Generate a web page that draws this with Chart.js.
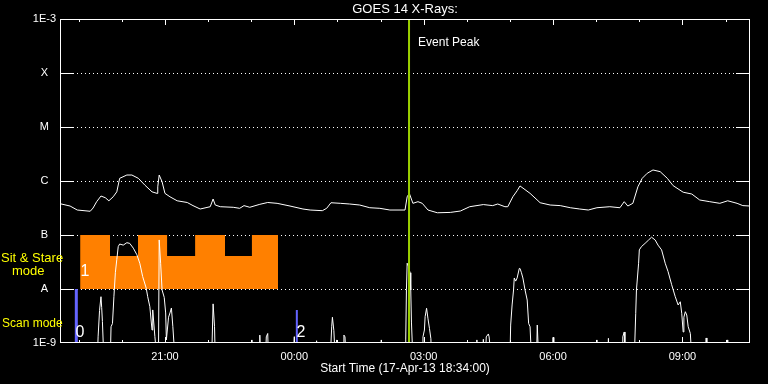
<!DOCTYPE html>
<html><head><meta charset="utf-8">
<script src="https://cdn.jsdelivr.net/npm/chart.js@4/dist/chart.umd.min.js"></script>
<style>html,body{margin:0;padding:0;background:#000;}#wrap{width:768px;height:384px;}</style>
</head><body><div id="wrap"><canvas id="c" width="768" height="384"></canvas></div>
<script>
// minutes after start time 17-Apr-13 18:34:00
const BELOW = 5e-10; // flux below the plotted range
const titleText = 'GOES 14 X-Rays:';
const xTitle = 'Start Time (17-Apr-13 18:34:00)';

const longTimes = [0,14,24,42,46,51,57,63,68,74,79,83,93,100,109,118,128,135,136,138,142,146,153,163,177,185,195,209,213,216,223,241,250,256,264,278,289,302,320,338,348,365,371,377,390,403,417,431,445,459,480,483,486,491,498,504,512,525,543,557,570,589,602,609,619,623,630,636,640,654,668,682,696,710,723,735,747,765,779,785,790,797,804,810,817,825,835,845,853,867,879,890,904,918,929,942,950,960];
const longFlux = [3.8e-7,3.44e-7,2.9e-7,2.75e-7,3.16e-7,4.14e-7,5.27e-7,4.9e-7,4.3e-7,5.1e-7,6.3e-7,1.12e-6,1.29e-6,1.29e-6,1.12e-6,8.4e-7,6.3e-7,5.9e-7,7.8e-7,1.29e-6,9.7e-7,5.9e-7,5.1e-7,4.3e-7,4.0e-7,3.5e-7,3.03e-7,3.34e-7,4.64e-7,3.59e-7,3.34e-7,3.26e-7,3.12e-7,3.5e-7,3.26e-7,3.7e-7,4.0e-7,3.86e-7,3.44e-7,3.03e-7,2.9e-7,2.82e-7,3.12e-7,3.96e-7,3.86e-7,3.75e-7,3.59e-7,3.2e-7,3.12e-7,2.9e-7,2.9e-7,5.1e-7,5.9e-7,3.86e-7,4.14e-7,3.86e-7,2.9e-7,2.58e-7,2.62e-7,2.78e-7,3.34e-7,3.66e-7,3.5e-7,3.75e-7,3.34e-7,3.34e-7,5.1e-7,6.6e-7,8.1e-7,5.9e-7,3.96e-7,3.59e-7,3.5e-7,3.2e-7,3.03e-7,2.9e-7,3.2e-7,3.34e-7,3.2e-7,4.14e-7,3.44e-7,3.86e-7,7.8e-7,1.12e-6,1.39e-6,1.6e-6,1.49e-6,1.12e-6,8.2e-7,6.2e-7,5.74e-7,4.45e-7,4.14e-7,3.86e-7,4.3e-7,3.86e-7,3.5e-7,3.44e-7];

const shortTimes = [
  0,
  52,53,55,57,58,59,61,
  70,71,73,75,77,79,81,83,88,93,97,102,107,111,115,120,122,125,128,129,132,135,
  137,138,140,142,145,147,148,151,153,155,157,160,
  211,213,215,216,
  266,267,268,277,278,279,286,287,289,290,
  324,326,327,356,357,358,
  376,378,379,381,383,385,386,394,395,396.5,398,
  446,447,448,
  480,481,482,483,485,487,488,489,491,504,505,507,508,510,512,514,516,517,
  579,580,581,588,589,590,592,593,596,597,600,
  626,627,629,631,632,634,636,639,640,642,644,647,650,652,654,656,663,664,666,
  685,686,687,746,747,748,762,763,764,782,783,785,786,
  799,801,802,805,806,809,814,819,823,828,832,837,842,846,851,856,860,863,865,867,868,870,872,874,877,879,
  898,899,900,927,928,929,960];
const shortFlux = [
  BELOW,
  BELOW,1.3e-9,4e-9,7.2e-9,4.5e-9,2.5e-9,BELOW,
  BELOW,2.0e-9,2.3e-9,7.2e-9,2.0e-8,3.5e-8,6.1e-8,6.8e-8,6.5e-8,7.2e-8,7.0e-8,5.7e-8,4.3e-8,3.0e-8,1.7e-8,1.03e-8,7.2e-9,4.7e-9,1.74e-9,4.1e-9,1.31e-9,BELOW,
  BELOW,8.1e-8,3.0e-8,9.6e-9,7.0e-9,3.6e-9,1.14e-9,3.0e-9,3.6e-9,4.45e-9,2.0e-9,BELOW,
  BELOW,5.3e-9,2.0e-9,BELOW,
  BELOW,1.14e-9,BELOW,BELOW,1.4e-9,BELOW,BELOW,1.3e-9,1.5e-9,BELOW,
  BELOW,1.31e-9,BELOW,BELOW,1.1e-9,BELOW,
  BELOW,2.0e-9,3.0e-9,1.7e-9,BELOW,1.14e-9,BELOW,BELOW,1.4e-9,1.3e-9,BELOW,
  BELOW,1.14e-9,BELOW,
  BELOW,1.14e-9,9.9e-9,3.0e-8,2.6e-8,2.0e-8,9.6e-9,2.35e-9,BELOW,BELOW,1.3e-9,1.74e-9,3.07e-9,4.4e-9,2.8e-9,1.87e-9,1.2e-9,BELOW,
  BELOW,1.14e-9,BELOW,BELOW,1.17e-9,BELOW,BELOW,1.3e-9,1.47e-9,1.3e-9,BELOW,
  BELOW,2.15e-9,5.06e-9,9.6e-9,1.6e-8,1.4e-8,1.6e-8,2.4e-8,2.4e-8,2.0e-8,1.6e-8,9.6e-9,6.25e-9,2.3e-9,2.0e-9,BELOW,BELOW,2.15e-9,BELOW,
  BELOW,1.27e-9,BELOW,BELOW,1.14e-9,BELOW,BELOW,1.22e-9,BELOW,BELOW,1.3e-9,1.6e-9,BELOW,
  BELOW,3.55e-9,9.6e-9,3.0e-8,5.3e-8,6.1e-8,7.0e-8,8.1e-8,9.1e-8,8.1e-8,6.5e-8,5.3e-8,3.0e-8,2.1e-8,1.2e-8,7.2e-9,5.06e-9,5.8e-9,3.55e-9,1.6e-9,3.0e-9,3.8e-9,3.3e-9,2.0e-9,1.5e-9,BELOW,
  BELOW,1.24e-9,BELOW,BELOW,1.14e-9,BELOW,BELOW];

// Sit & Stare mode (stepped block between A and B)
const stareTimes = [28,69.6,108.5,149,188,229.6,267,303.3];
const stareLevels = [1e-7,4.1e-8,1e-7,4.1e-8,1e-7,4.1e-8,1e-7,1e-7];
// Scan mode markers
const scanTimes = [22.7,329.5];
const scanLevels = [1e-8,4.1e-9];
const eventPeakTime = 485.6;

const yTickValues = [1e-9,1e-8,1e-7,1e-6,1e-5,1e-4,1e-3];
const yTickLabels = ['1E-9','A','B','C','M','X','1E-3'];
const xTickMinutes = [26,86,146,206,266,326,386,446,506,566,626,686,746,806,866,926];
const xTickLabels = ['','','21:00','','','00:00','','','03:00','','','06:00','','','09:00',''];

const modeNumbers = ['0','1','2'];
const modeNumberTimes = [27.8,34.8,335.3];
const modeNumberLevels = [1.53e-9,2.07e-8,1.53e-9];

const FONT = "'Liberation Sans', Arial, sans-serif";
const pts = (ts, vs) => ts.map((t,i)=>({x:t,y:vs[i]}));

const decor = {
  id:'decor',
  beforeDatasetsDraw(chart){
    const {ctx, chartArea:a, scales:{y}} = chart;
    ctx.save(); ctx.strokeStyle='#fff'; ctx.lineWidth=1; ctx.setLineDash([1,3]);
    yTickValues.forEach((v,i)=>{
      if(i===0||i===yTickValues.length-1) return;
      const py = Math.round(y.getPixelForValue(v))+0.5;
      ctx.beginPath(); ctx.moveTo(a.left+17,py); ctx.lineTo(a.right-14,py); ctx.stroke();
    });
    ctx.restore();
  },
  afterDraw(chart){
    const {ctx, chartArea:a, scales:{x,y}} = chart;
    ctx.save();
    ctx.strokeStyle='#fff'; ctx.lineWidth=1;
    ctx.strokeRect(a.left+0.5,a.top+0.5,a.right-a.left-1,a.bottom-a.top-1);
    ctx.beginPath();
    yTickValues.forEach((v,i)=>{
      if(i===0||i===yTickValues.length-1) return;
      const py = Math.round(y.getPixelForValue(v))+0.5;
      ctx.moveTo(a.left,py); ctx.lineTo(a.left+14,py);
      ctx.moveTo(a.right-14,py); ctx.lineTo(a.right,py);
    });
    xTickMinutes.forEach((m,i)=>{
      const px = Math.round(x.getPixelForValue(m))+0.5;
      const len = xTickLabels[i] ? 6 : 3;
      ctx.moveTo(px,a.top); ctx.lineTo(px,a.top+len);
      ctx.moveTo(px,a.bottom); ctx.lineTo(px,a.bottom-len);
    });
    ctx.stroke();
    // texts
    ctx.textBaseline='middle';
    ctx.fillStyle='#fff';
    ctx.font="12px "+FONT; ctx.textAlign='left';
    ctx.fillText('Event Peak', x.getPixelForValue(eventPeakTime)+9, a.top+24);
    ctx.font="16px "+FONT; ctx.textAlign='center';
    modeNumbers.forEach((s,i)=>ctx.fillText(s, x.getPixelForValue(modeNumberTimes[i]), y.getPixelForValue(modeNumberLevels[i])));
    ctx.fillStyle='#ffff00'; ctx.font="13px "+FONT; ctx.textAlign='left';
    ctx.fillText('Sit & Stare', 1, y.getPixelForValue(3.67e-8));
    ctx.fillText('mode', 12, y.getPixelForValue(2.15e-8));
    ctx.font="12px "+FONT;
    ctx.fillText('Scan mode', 2, y.getPixelForValue(2.25e-9));
    ctx.restore();
  }
};

new Chart(document.getElementById('c'), {
  type:'line',
  data:{ datasets:[
    { label:'Event Peak', data:[{x:eventPeakTime,y:1e-3},{x:eventPeakTime,y:1e-9}], borderColor:'#9bd000', borderWidth:2, pointRadius:0, order:0 },
    ...scanTimes.map((t,i)=>({ label:'Scan '+i, data:[{x:t,y:scanLevels[i]},{x:t,y:1e-9}], borderColor:'#6464ff', borderWidth:i===0?3:2, pointRadius:0, order:1 })),
    { label:'Long channel', data:pts(longTimes,longFlux), borderColor:'#ffffff', borderWidth:1, pointRadius:0, tension:0, order:2 },
    { label:'Short channel', data:pts(shortTimes,shortFlux), borderColor:'#ffffff', borderWidth:1, pointRadius:0, tension:0, order:2 },
    { label:'Sit & Stare', data:pts(stareTimes,stareLevels), stepped:'before', fill:{value:1e-8}, backgroundColor:'#ff8000', borderColor:'rgba(0,0,0,0)', borderWidth:0, pointRadius:0, order:3 }
  ]},
  options:{
    responsive:false, animation:false, devicePixelRatio:1,
    layout:{padding:{left:0,right:18,top:0,bottom:0}},
    plugins:{
      legend:{display:false}, tooltip:{enabled:false},
      title:{display:true, text:titleText, color:'#fff', fullSize:false,
        font:{family:FONT,size:13,weight:'normal',lineHeight:1}, padding:{top:3,bottom:3}}
    },
    scales:{
      x:{ type:'linear', min:0, max:960,
        grid:{display:false, drawTicks:false}, border:{display:false},
        afterBuildTicks:(s)=>{ s.ticks = xTickMinutes.map(v=>({value:v})); },
        ticks:{ color:'#fff', font:{family:FONT,size:11}, padding:7, maxRotation:0, autoSkip:false,
          callback:(v,i)=>xTickLabels[i] },
        title:{ display:true, text:xTitle, color:'#fff', font:{family:FONT,size:12,lineHeight:1.2}, padding:{top:0,bottom:8} },
        afterFit:(s)=>{ s.height = 41; } },
      y:{ type:'logarithmic', min:1e-9, max:1e-3,
        grid:{display:false, drawTicks:false}, border:{display:false},
        afterBuildTicks:(s)=>{ s.ticks = yTickValues.map(v=>({value:v})); },
        ticks:{ color:'#fff', font:{family:FONT,size:11}, padding:4, crossAlign:'center', autoSkip:false,
          callback:(v,i)=>yTickLabels[i] },
        afterFit:(s)=>{ s.width = 60; } }
    }
  },
  plugins:[decor]
});
</script></body></html>
